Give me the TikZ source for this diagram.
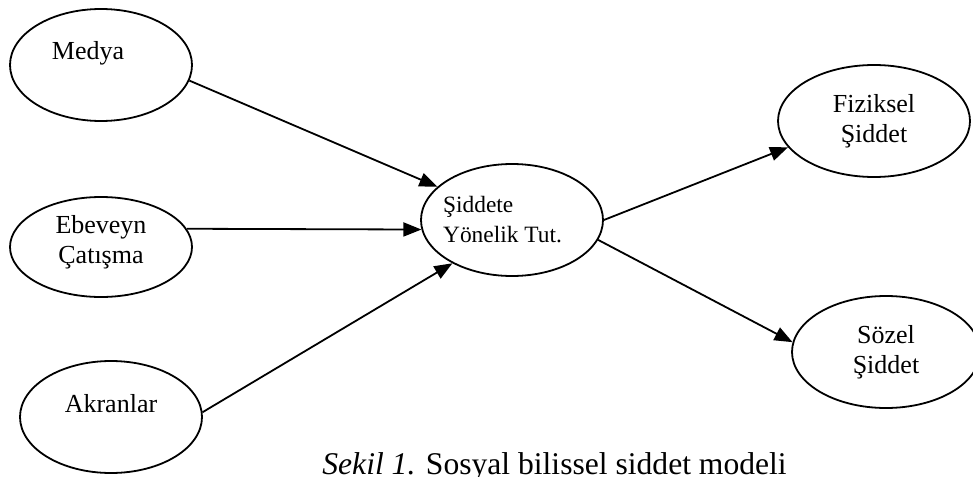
\documentclass[tikz,border=0pt]{standalone}
\usepackage{fontspec}
\setmainfont{Liberation Serif}
\usetikzlibrary{arrows.meta, shapes.geometric}

\begin{document}
\begin{tikzpicture}[
  x=0.5pt, y=-0.5pt,
  every node/.style={font=\fontsize{13}{15}\selectfont, align=center},
  oval/.style={draw, ellipse, line width=0.9pt, inner sep=0pt, minimum width=91pt, minimum height=56pt},
  arrow/.style={line width=0.9pt, -{Triangle[length=9pt, width=7pt]}}
]
\useasboundingbox (0,0) rectangle (973,476);

% Sources on the left
\node[oval, label={[xshift=-6.5pt, yshift=6pt]center:Medya}] (medya) at (101,65) {};
\node[oval, minimum height=50pt, label={[yshift=2.5pt]center:{Ebeveyn\\Çatışma}}] (ebeveyn) at (101,247) {};
\node[oval, label={[yshift=6.5pt]center:Akranlar}] (akran) at (111,417) {};

% Attitude in the middle
\node[oval, label={[xshift=-4.75pt, align=left, font=\fontsize{11.7}{15}\selectfont]center:{Şiddete\\Yönelik Tut.}}] (tutum) at (512,220) {};

% Outcomes on the right
\node[oval, minimum width=96pt] (fiziksel) at (874,121) {Fiziksel\\Şiddet};
\node[oval, minimum width=94pt] (sozel) at (886,352) {Sözel\\Şiddet};

% Caption
\node[anchor=base west, inner sep=0pt, font=\fontsize{15.8}{18}\selectfont] (caption) at (322,474) {\textit{Sekil 1.} Sosyal bilissel siddet modeli};

% Arrows
\draw[arrow] (medya.-10) -- (tutum.156);
\draw[arrow] (ebeveyn.12) -- (tutum.186);
\draw[arrow] (akran.3) -- (tutum.216);
\draw[arrow] (tutum.0) -- (fiziksel.197);
\draw[arrow] (tutum.-13) -- (sozel.174);

\end{tikzpicture}
\end{document}
